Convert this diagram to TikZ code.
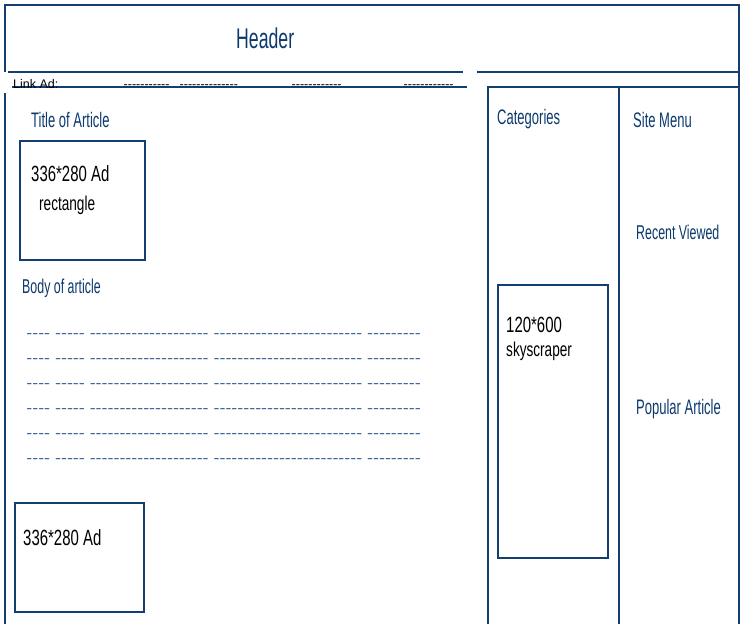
\documentclass[tikz,border=0pt]{standalone}
\usepackage{fontspec}
\usepackage{graphicx}
\setmainfont{Liberation Sans}
\newfontfamily\narrowfont[FakeStretch=0.62]{Liberation Sans}
\newfontfamily\blackfont[FakeStretch=0.68]{Liberation Sans}
\newfontfamily\dashfont[Ligatures=TeXOff]{Liberation Sans}
\definecolor{navy}{RGB}{12,58,110}
\definecolor{linecol}{RGB}{20,62,112}
\definecolor{dashcol}{RGB}{22,72,132}
\begin{document}
\begin{tikzpicture}[x=1pt,y=-1pt,
  frame/.style={draw=linecol, line width=1.1pt},
  hrule/.style={draw=linecol, line width=2pt},
  title/.style={inner sep=0, anchor=base west, text=navy, font=\narrowfont\fontsize{21}{24}\selectfont},
  adtext/.style={inner sep=0, anchor=base west, text=black, font=\blackfont\fontsize{22}{24}\selectfont},
  adsmall/.style={inner sep=0, anchor=base west, text=black, font=\blackfont\fontsize{20}{24}\selectfont},
  adbox/.style={draw=linecol, line width=1.1pt, anchor=north west, inner sep=0, outer sep=0},
  linktext/.style={inner sep=0, anchor=base west, text=black, font=\dashfont\fontsize{12.5}{14}\selectfont},
  bodydash/.style={inner sep=0, anchor=base west, text=dashcol, font=\dashfont\fontsize{17.85}{20}\selectfont},
]
\useasboundingbox[fill=white] (0,0) rectangle (748,624);

% frame lines
\coordinate (tl) at (5,5);
\coordinate (tr) at (739,5);
\coordinate (br) at (739,624);
\coordinate (hl) at (5,72);
\coordinate (ml) at (5,93);
\coordinate (bl) at (5,624);
\draw[frame] (hl) -- (tl) -- (tr) -- (br);
\draw[frame] (ml) -- (bl);

% header rules
\coordinate (r1a) at (8,72);
\coordinate (r1b) at (463,72);
\coordinate (r1c) at (477,72);
\coordinate (r1d) at (739,72);
\coordinate (r2a) at (12,87);
\coordinate (r2b) at (467,87);
\draw[hrule] (r1a) -- (r1b);
\draw[hrule] (r1c) -- (r1d);
\draw[hrule] (r2a) -- (r2b);

% right columns
\coordinate (c1t) at (488,87);
\coordinate (c1b) at (488,624);
\coordinate (c2t) at (619,87);
\coordinate (c2b) at (619,624);
\coordinate (c3t) at (739,87);
\draw[frame] (c1b) -- (c1t) -- (c3t);
\draw[frame, line width=1.8pt] (c1t) -- (c2t);
\draw[frame] (c2t) -- (c2b);

% header
\node[title, font=\narrowfont\fontsize{28.5}{30}\selectfont] (header) at (236,48) {Header};

% link ad row
\node[linktext] (linkad) at (13,88) {Link Ad:};
\node[linktext] (ld1) at (123.5,88) {-----------};
\node[linktext] (ld2) at (179.5,88) {--------------};
\node[linktext] (ld3) at (291.5,88) {------------};
\node[linktext] (ld4) at (403.5,88) {------------};

% article column
\node[title] (toa) at (31,127) {Title of Article};
\node[adbox, minimum width=125pt, minimum height=119pt] (ad1) at (20,141) {};
\node[adtext] (ad1a) at (31,181) {336*280 Ad};
\node[adsmall] (ad1b) at (39,210) {rectangle};
\node[title, font=\narrowfont\fontsize{20}{24}\selectfont] (body) at (22,293) {Body of article};

\foreach \i/\yy in {1/337.3,2/362.3,3/387.3,4/412.3,5/437.3,6/462.3}{
  \node[bodydash] (d\i) at (26.2,\yy) {\scalebox{1}[0.7]{---- ----- -------------------- ------------------------- ---------}};
}

\node[adbox, minimum width=129pt, minimum height=109pt] (ad2) at (15,503) {};
\node[adtext] (ad2a) at (23,545) {336*280 Ad};

% categories column
\node[title] (cat) at (497,124) {Categories};
\node[adbox, minimum width=110pt, minimum height=273pt] (sky) at (498,285) {};
\node[adtext] (skya) at (506,332) {120*600};
\node[adsmall] (skyb) at (506,356) {skyscraper};

% site menu column
\node[title] (menu) at (633,127) {Site Menu};
\node[title, font=\narrowfont\fontsize{20}{24}\selectfont] (recent) at (636,239) {Recent Viewed};
\node[title] (popular) at (636,414) {Popular Article};
\end{tikzpicture}
\end{document}
